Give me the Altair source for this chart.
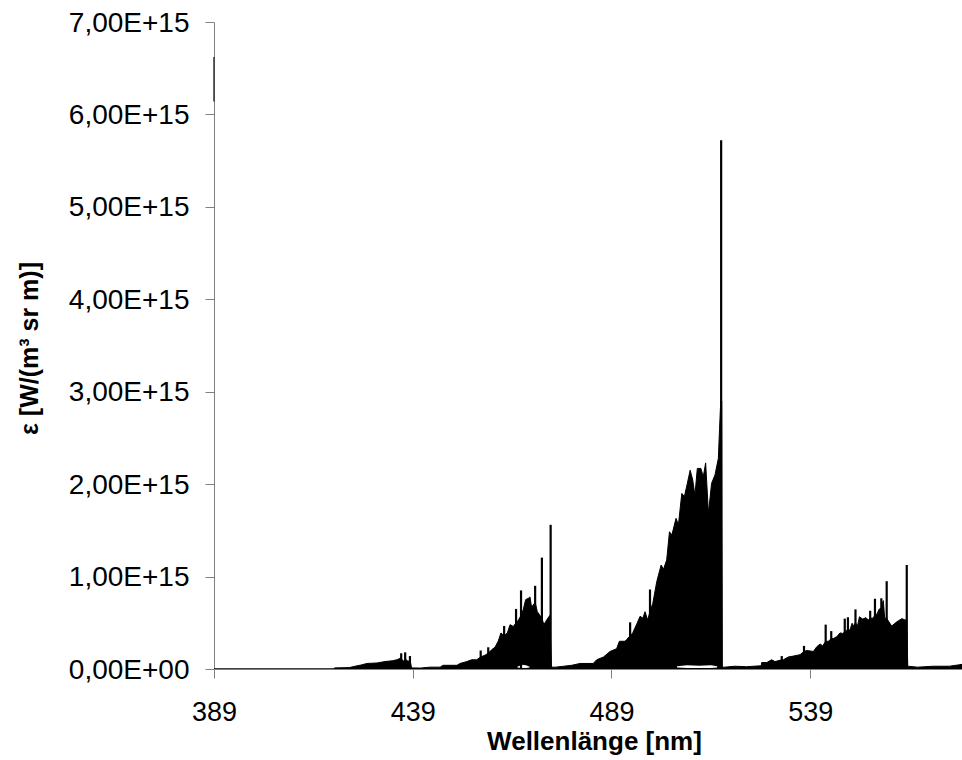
import altair as alt
import pandas as pd

# Upper envelope of the dense spectrum (wavelength in nm, value in 1E+15 W/(m^3 sr m))
env_wl = [389.0, 419.0, 419.4, 423.0, 424.5, 426.0, 427.5, 430.0, 432.0, 434.0, 435.0, 436.1, 436.6, 437.1, 437.6, 438.3, 438.5, 438.7,
          441.0, 443.35, 445.9, 446.6, 450.15, 450.9, 452.6, 453.85, 455.1, 456.1, 457.2, 458.0, 458.9, 459.7, 460.5, 461.2, 462.0,
          462.8, 463.5, 464.3, 465.0, 465.6, 466.25, 466.8, 467.4, 468.1, 468.5, 468.9, 469.8, 470.35, 471.5, 472.0, 472.7, 473.5, 473.9,
          475.0, 477.0, 479.0, 481.1, 484.4, 485.3, 487.0, 488.65, 490.3, 491.0, 492.4, 492.85, 493.7, 494.35, 495.4, 496.2, 496.9,
          497.45, 498.1, 498.7, 499.4, 500.4, 501.5, 502.1, 502.9, 503.6, 504.2, 505.25, 505.85, 506.7, 507.35, 508.1, 508.8, 509.45,
          510.0, 510.6, 511.5, 512.1, 512.7, 513.4, 514.2, 515.05, 515.9, 516.2, 516.5, 516.75, 516.9,
          517.5, 520.0, 523.0, 526.7, 526.8, 528.1, 529.3, 530.15, 531.85, 532.25, 533.5, 534.8, 536.45, 537.45, 538.15, 539.8,
          540.65, 541.5, 542.15, 542.9, 543.6, 544.3, 544.85, 545.7, 546.5, 547.2, 547.7, 548.2, 548.5, 549.0, 549.55, 549.9, 550.4,
          550.9, 551.4, 552.2, 553.05, 553.6, 554.1, 554.75, 555.3, 555.9, 556.3, 556.9, 557.4, 557.75, 558.25, 558.8, 559.5, 560.8,
          562.05, 562.9, 563.3, 563.55, 566.0, 570.0, 574.0, 577.2]
env_val = [0.0, 0.0, 0.012, 0.015, 0.03, 0.043, 0.06, 0.065, 0.08, 0.09, 0.10, 0.12, 0.08, 0.11, 0.09, 0.08, 0.06, 0.012,
           0.01, 0.02, 0.02, 0.04, 0.04, 0.06, 0.08, 0.10, 0.10, 0.13, 0.15, 0.17, 0.21, 0.235, 0.30, 0.39, 0.36,
           0.39, 0.48, 0.46, 0.50, 0.53, 0.58, 0.64, 0.75, 0.765, 0.78, 0.67, 0.72, 0.62, 0.55, 0.48, 0.53, 0.58, 0.02,
           0.02, 0.03, 0.04, 0.06, 0.06, 0.10, 0.13, 0.19, 0.22, 0.30, 0.30, 0.32, 0.36, 0.39, 0.49, 0.57, 0.55,
           0.62, 0.53, 0.62, 0.71, 0.945, 1.125, 1.08, 1.18, 1.485, 1.45, 1.63, 1.56, 1.90, 1.865, 2.01, 2.15, 2.045,
           1.88, 2.17, 2.17, 2.08, 2.23, 1.685, 2.01, 2.10, 2.28, 2.6, 2.9, 2.9, 0.02,
           0.02, 0.03, 0.025, 0.035, 0.07, 0.07, 0.10, 0.08, 0.10, 0.10, 0.13, 0.14, 0.155, 0.19, 0.20, 0.19,
           0.24, 0.27, 0.25, 0.30, 0.30, 0.33, 0.33, 0.35, 0.39, 0.385, 0.40, 0.42, 0.43, 0.42, 0.495, 0.465, 0.50,
           0.465, 0.565, 0.54, 0.555, 0.53, 0.55, 0.55, 0.58, 0.60, 0.645, 0.66, 0.74, 0.55, 0.55, 0.51, 0.465, 0.51,
           0.545, 0.53, 0.53, 0.03, 0.02, 0.03, 0.03, 0.05]

# Narrow emission lines rising above the envelope
spike_wl = [436.1, 437.1, 438.3, 456.1, 458.0, 462.0, 465.0, 466.25, 469.8, 471.5, 473.7,
            493.7, 498.7, 516.6, 531.85, 537.45, 542.9, 544.3, 547.7, 548.5, 550.4, 554.1, 555.3, 556.9, 558.25, 563.3]
spike_val = [0.17, 0.18, 0.14, 0.20, 0.235, 0.465, 0.65, 0.85, 0.90, 1.205, 1.56,
             0.505, 0.86, 5.72, 0.14, 0.25, 0.48, 0.41, 0.545, 0.56, 0.645, 0.63, 0.76, 0.765, 0.95, 1.125]

# White gaps under the dense bands
hole_grp = ["a", "a", "a", "a", "b", "b", "b", "b", "b"]
hole_wl = [465.3, 466.5, 467.5, 468.4, 505.5, 508.0, 511.0, 514.0, 515.6]
hole_lo = [0.015, 0.012, 0.012, 0.015, 0.015, 0.012, 0.012, 0.012, 0.015]
hole_hi = [0.025, 0.045, 0.04, 0.025, 0.03, 0.04, 0.035, 0.04, 0.03]

# Short segment at the left edge
edge_wl = [389.0]
edge_lo = [6.14]
edge_hi = [6.62]

E = 1e15
env = pd.DataFrame({"wl": env_wl, "v": [v * E for v in env_val]})
spk = pd.DataFrame({"wl": spike_wl, "v": [v * E for v in spike_val], "base": [0.0] * len(spike_wl)})
hol = pd.DataFrame({"g": hole_grp, "wl": hole_wl, "lo": [v * E for v in hole_lo], "hi": [v * E for v in hole_hi]})
edg = pd.DataFrame({"wl": edge_wl, "lo": [v * E for v in edge_lo], "hi": [v * E for v in edge_hi]})

xs = alt.Scale(domain=[389, 577.2], nice=False, zero=False)
ys = alt.Scale(domain=[0, 7e15], nice=False)

FONT = "Liberation Sans"
xaxis = alt.Axis(values=[389, 439, 489, 539], title="Wellenlänge [nm]", format="d",
                 tickSize=9, labelPadding=21, labelFontSize=27, labelFont=FONT, labelFlush=False,
                 titleFont=FONT, titleFontSize=26, titleFontWeight="bold",
                 titleBaseline="alphabetic", titleY=80, titleX=380, titleAnchor="middle")
yaxis = alt.Axis(values=[i * 1e15 for i in range(8)], title="ε [W/(m³ sr m)]",
                 labelExpr="datum.value == 0 ? '0,00E+00' : replace(format(datum.value / 1e15, '.2f'), '.', ',') + 'E+15'",
                 tickSize=9, labelPadding=16, labelFontSize=28, labelFont=FONT, labelOffset=1, labelFlush=False,
                 titleFont=FONT, titleFontSize=25, titleFontWeight="bold",
                 titleX=-172, titleY=326, titleAngle=-90, titleBaseline="bottom", titleAnchor="middle")

area = alt.Chart(env).mark_area(color="black", stroke="black", strokeWidth=1, clip=True).encode(
    x=alt.X("wl:Q", scale=xs, axis=xaxis),
    y=alt.Y("v:Q", scale=ys, axis=yaxis),
)
holes = alt.Chart(hol).mark_area(color="white", clip=True).encode(
    x=alt.X("wl:Q", scale=xs), y=alt.Y("lo:Q", scale=ys), y2="hi:Q", detail="g:N"
)
spikes = alt.Chart(spk).mark_rule(color="black", strokeWidth=2.2, clip=True).encode(
    x=alt.X("wl:Q", scale=xs), y=alt.Y("base:Q", scale=ys), y2="v:Q"
)
edge = alt.Chart(edg).mark_rule(color="#333333", strokeWidth=1.5).encode(
    x=alt.X("wl:Q", scale=xs), y=alt.Y("lo:Q", scale=ys), y2="hi:Q"
)

chart = alt.layer(area, holes, spikes, edge).properties(
    width=748, height=647,
    autosize=alt.AutoSizeParams(type="none"),
    padding={"left": 214, "top": 22, "right": 0, "bottom": 91},
    background="white",
).configure_view(stroke=None).configure_axis(
    grid=False, domainColor="#808080", tickColor="#808080", domainWidth=1, tickWidth=1,
    labelColor="black", titleColor="black",
)

chart.save("out.html", embed_options={"renderer": "svg", "actions": False})
